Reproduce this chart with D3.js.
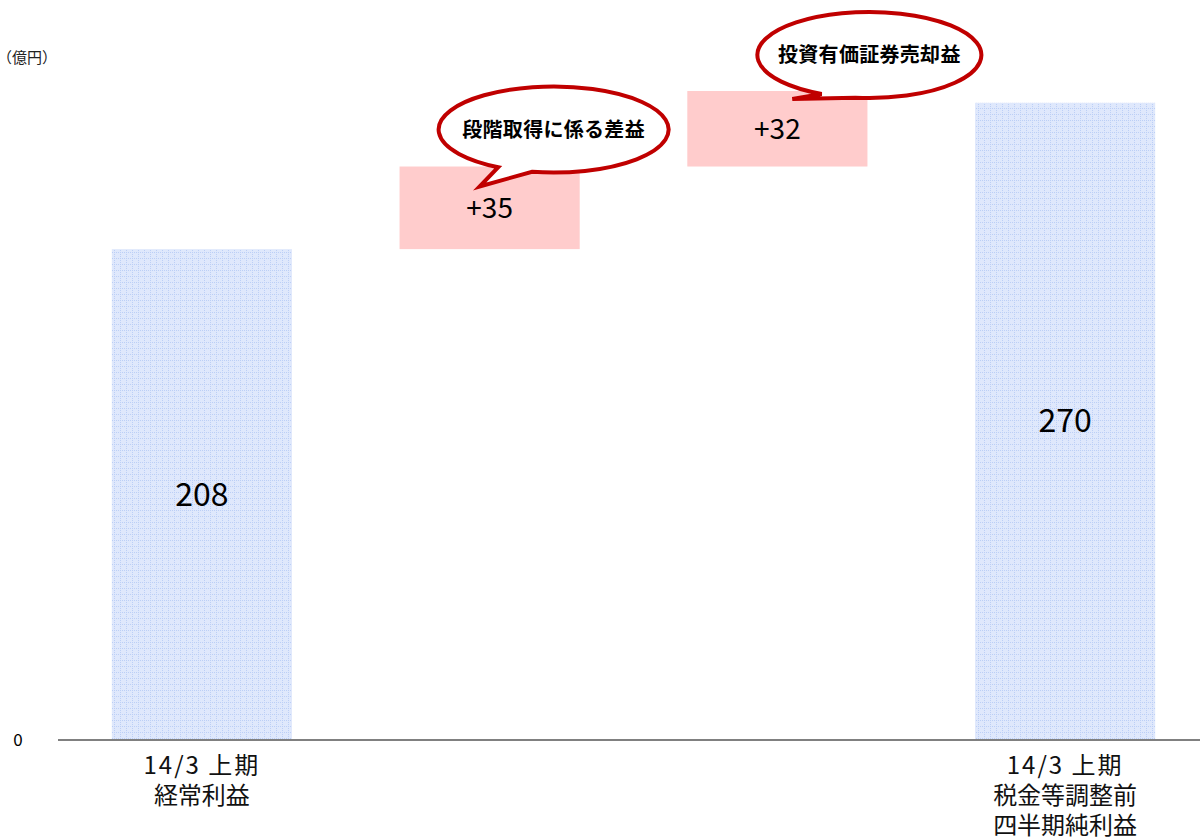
<!DOCTYPE html>
<html>
<head>
<meta charset="utf-8">
<title>経常利益から税金等調整前四半期純利益</title>
<script src="https://d3js.org/d3.v7.min.js"></script>
<style>
body {
	margin: 0;
	background-color: white;
	font-family: "Noto Sans CJK JP", "Noto Sans", sans-serif;
}
svg {
	display: block;
}
.value {
	fill: #000;
}
.cat {
	font-size: 24px;
	fill: #111;
}
.callout-text {
	font-size: 20px;
	font-weight: bold;
	letter-spacing: 0.3px;
	fill: #000;
}
</style>
</head>
<body>
<div id="chart"></div>
<script>
/* globals d3 */
"use strict";

// categories, bar kind, and values (億円)
const categories = ["start", "step1", "step2", "end"];
const kinds = ["total", "delta", "delta", "total"];
const values = [208, 35, 32, 270];
const valueLabels = ["208", "+35", "+32", "270"];
const catLabels = [["14/3 上期", "経常利益"], [], [], ["14/3 上期", "税金等調整前", "四半期純利益"]];
const callouts = [null, "段階取得に係る差益", "投資有価証券売却益", null];
const yTicks = [0];

const width = 1200, height = 839;
const axisY = 740;

const svg = d3.select("#chart").append("svg")
	.attr("width", width)
	.attr("height", height);

const defs = svg.append("defs");
const pat = defs.append("pattern")
	.attr("id", "grid")
	.attr("patternUnits", "userSpaceOnUse")
	.attr("width", 6)
	.attr("height", 6);
pat.append("rect").attr("width", 6).attr("height", 6).attr("fill", "#dfe8fc");
pat.append("path")
	.attr("d", "M0,0.5H6M0.5,0V6")
	.attr("stroke", "#bccff6")
	.attr("stroke-width", 1)
	.attr("stroke-dasharray", "1,1");

const x = d3.scaleBand()
	.domain(categories)
	.range([58, 1209])
	.paddingInner(0.374)
	.paddingOuter(0.187);

const y = d3.scaleLinear()
	.domain([0, 100])
	.range([axisY, axisY - 236]);

// build waterfall bases
const bars = [];
let running = 0;
categories.forEach((c, i) => {
	let lo, hi;
	if (kinds[i] === "total") {
		lo = 0; hi = values[i]; running = values[i];
	} else {
		lo = running; hi = running + values[i]; running = hi;
	}
	bars.push({cat: c, lo, hi, kind: kinds[i], label: valueLabels[i], i});
});

svg.selectAll(".bar")
	.data(bars)
	.join("rect")
	.attr("class", "bar")
	.attr("x", d => x(d.cat))
	.attr("width", x.bandwidth())
	.attr("y", d => y(d.hi))
	.attr("height", d => y(d.lo) - y(d.hi))
	.attr("fill", d => d.kind === "total" ? "url(#grid)" : "#ffcccc");

svg.selectAll(".value")
	.data(bars)
	.join("text")
	.attr("class", "value")
	.attr("x", d => x(d.cat) + x.bandwidth() / 2)
	.attr("y", d => (y(d.lo) + y(d.hi)) / 2 + (d.kind === "total" ? 11 : 10))
	.attr("text-anchor", "middle")
	.attr("font-size", d => d.kind === "total" ? 32 : 28)
	.text(d => d.label);

// axis baseline
svg.append("line")
	.attr("x1", 58).attr("x2", width)
	.attr("y1", axisY).attr("y2", axisY)
	.attr("stroke", "#808080")
	.attr("stroke-width", 2);

svg.selectAll(".ytick")
	.data(yTicks)
	.join("text")
	.attr("class", "ytick")
	.attr("x", 18)
	.attr("y", d => y(d) + 6)
	.attr("text-anchor", "middle")
	.attr("font-size", 17)
	.text(d => d);

svg.append("text")
	.attr("x", -3)
	.attr("y", 63)
	.attr("font-size", 15)
	.attr("fill", "#222")
	.text("（億円）");

// category labels
categories.forEach((c, i) => {
	const t = svg.append("text")
		.attr("class", "cat")
		.attr("text-anchor", "middle");
	catLabels[i].forEach((line, k) => {
		t.append("tspan")
			.attr("x", x(c) + x.bandwidth() / 2)
			.attr("y", 774 + k * 30)
			.attr("letter-spacing", k === 0 ? 2 : 0)
			.text(line);
	});
});

// speech-bubble callouts above the delta bars
function bubblePath(cx, cy, rx, ry, a0, a1, tip) {
	const p0 = [cx + rx * Math.cos(a0), cy + ry * Math.sin(a0)];
	const p1 = [cx + rx * Math.cos(a1), cy + ry * Math.sin(a1)];
	return "M" + p1 + "A" + rx + "," + ry + " 0 1 0 " + p0 + "L" + tip + "Z";
}

bars.forEach(d => {
	const txt = callouts[d.i];
	if (!txt) return;
	const left = x(d.cat);
	const top = y(d.hi);
	const first = d.i === 1;
	const cx = left + x.bandwidth() / 2 + (first ? 64 : 92);
	const cy = top - (first ? 37 : 36);
	const rx = first ? 115 : 112;
	const ry = 43;
	const tip = first ? [left + 80, top + 20] : [left + 105, top + 8];
	const a0 = first ? 0.66 : 0.64;
	const a1 = first ? 0.56 : 0.54;
	svg.append("path")
		.attr("d", bubblePath(cx, cy, rx, ry, Math.PI * a0, Math.PI * a1, tip))
		.attr("fill", "white")
		.attr("stroke", "#c00000")
		.attr("stroke-width", 4)
		.attr("stroke-linejoin", "miter");
	svg.append("text")
		.attr("class", "callout-text")
		.attr("x", cx)
		.attr("y", cy + 7)
		.attr("text-anchor", "middle")
		.text(txt);
});
</script>
</body>
</html>
